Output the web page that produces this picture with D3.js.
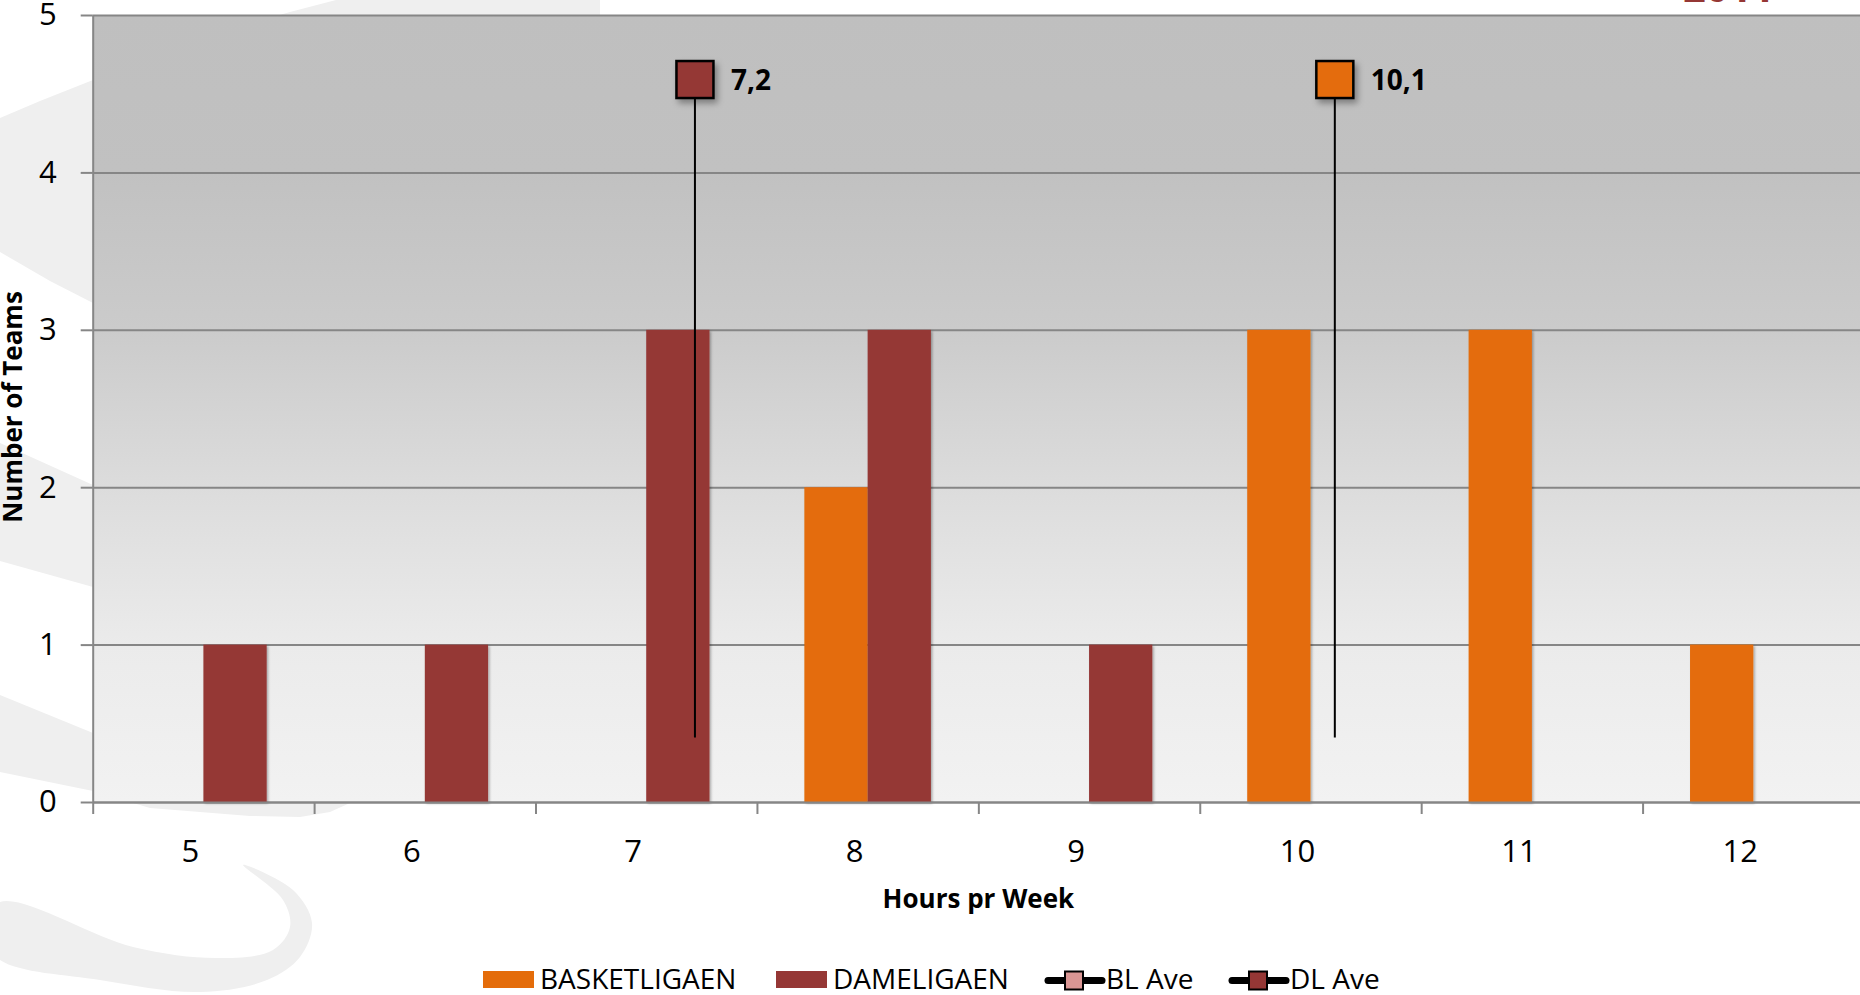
<!DOCTYPE html>
<html>
<head>
<meta charset="utf-8">
<title>Hours pr Week</title>
<script src="https://cdn.jsdelivr.net/npm/d3@7"></script>
<style>
  body { margin: 0; background: #fff; }
  svg { display: block; font-family: "Open Sans", sans-serif; }
</style>
</head>
<body>
<svg width="1860" height="995"></svg>
<script>
// data
var hours = [5, 6, 7, 8, 9, 10, 11, 12];
var series = ["BASKETLIGAEN", "DAMELIGAEN"];
var basketligaen = [0, 0, 0, 2, 0, 3, 3, 1];
var dameligaen = [1, 1, 3, 3, 1, 0, 0, 0];
var aveNames = ["BL Ave", "DL Ave"];
var aveHours = [10.11, 7.22];
var aveLevel = [4.59, 4.59];
var aveLow = [0.41, 0.41];
var yTicks = [0, 1, 2, 3, 4, 5];

var barColours = ["#e46c0a", "#953735"];
var aveColours = ["#e46c0a", "#953735"];
var aveLegendColours = ["#d99694", "#953735"];

var svg = d3.select("svg");
var plotLeft = 92.7, plotRight = 1864, plotTop = 15, plotBottom = 802;

// background swooshes of the slide template
var swooshes = [
  { curve: d3.curveLinear, pts: [[0,118],[40,101],[93,80],[150,58],[220,32],[290,12],[336,0],[600,0],[600,200],[93,303],[50,281],[0,252]] },
  { curve: d3.curveLinear, pts: [[0,443],[93,485],[200,520],[200,600],[93,587],[0,561]] },
  { curve: d3.curveLinear, pts: [[0,695],[93,733],[200,770],[356,795],[350,803],[330,812],[300,817],[250,816],[150,808],[93,791],[0,772]] },
  { curve: d3.curveCatmullRomClosed.alpha(0.5), pts: [[0,902],[133,947],[217,958],[273,950],[290,927],[283,900],[243,865],[293,890],[312,923],[300,957],[267,980],[200,992],[100,980],[0,960],[-20,930]] }
];
svg.append("g").selectAll("path").data(swooshes).enter()
  .append("path")
  .attr("d", function (d) { return d3.line().curve(d.curve)(d.pts) + (d.curve === d3.curveLinear ? "Z" : ""); })
  .attr("fill", "#efefef");

// cut-off title piece at the top
svg.append("text").attr("x", 1683).attr("y", 2)
  .attr("font-size", 40).attr("font-weight", "bold").attr("fill", "#953735")
  .text("2011");

var defs = svg.append("defs");
var grad = defs.append("linearGradient").attr("id", "plotbg")
  .attr("x1", 0).attr("y1", 0).attr("x2", 0).attr("y2", 1);
[[0, "#bfbfbf"], [0.2, "#c1c1c1"], [0.4, "#cbcbcb"], [0.6, "#dcdcdc"], [0.8, "#ebebeb"], [1, "#f2f2f2"]]
  .forEach(function (s) { grad.append("stop").attr("offset", s[0]).attr("stop-color", s[1]); });

var shBar = defs.append("filter").attr("id", "shbar").attr("x", "-20%").attr("y", "-20%").attr("width", "140%").attr("height", "140%");
shBar.append("feDropShadow").attr("dx", 1.5).attr("dy", 1.5).attr("stdDeviation", 1.2)
  .attr("flood-color", "#000").attr("flood-opacity", 0.3);
var shMark = defs.append("filter").attr("id", "shmark").attr("x", "-30%").attr("y", "-30%").attr("width", "170%").attr("height", "170%");
shMark.append("feDropShadow").attr("dx", 3).attr("dy", 4).attr("stdDeviation", 3)
  .attr("flood-color", "#000").attr("flood-opacity", 0.35);

svg.append("rect").attr("x", plotLeft).attr("y", plotTop)
  .attr("width", plotRight - plotLeft).attr("height", plotBottom - plotTop)
  .attr("fill", "url(#plotbg)");

// scales
var x0 = d3.scaleBand().domain(hours).range([plotLeft, plotRight])
  .paddingInner(0.4286).paddingOuter(0.2143);
var x1 = d3.scaleBand().domain(series).range([0, x0.bandwidth()]);
var xv = d3.scaleLinear().domain([4.5, 12.5]).range([plotLeft, plotRight]);
var y = d3.scaleLinear().domain([0, 5]).range([plotBottom, plotTop]);

// gridlines
svg.append("g").attr("transform", "translate(" + plotLeft + ",0)")
  .call(d3.axisLeft(y).tickValues(yTicks).tickSize(-(plotRight - plotLeft)).tickFormat(""))
  .call(function (g) { g.select(".domain").remove(); })
  .selectAll("line").attr("stroke", "#868686").attr("stroke-width", 2);

// y axis
var yAxis = svg.append("g").attr("transform", "translate(" + plotLeft + ",0)")
  .call(d3.axisLeft(y).tickValues(yTicks).tickFormat(d3.format("d"))
    .tickSize(12).tickSizeOuter(0).tickPadding(24));
yAxis.select(".domain").attr("stroke", "#868686").attr("stroke-width", 2);
yAxis.selectAll("line").attr("stroke", "#868686").attr("stroke-width", 2);
yAxis.selectAll("text").attr("font-size", 31).attr("font-family", "Open Sans").attr("fill", "#000");

// bars
var rows = hours.map(function (h, i) {
  return { hour: h, values: [basketligaen[i], dameligaen[i]] };
});
svg.append("g").selectAll("g").data(rows).enter().append("g")
  .attr("transform", function (d) { return "translate(" + x0(d.hour) + ",0)"; })
  .selectAll("rect")
  .data(function (d) { return d.values.map(function (v, j) { return { s: series[j], v: v, c: barColours[j] }; }).filter(function (e) { return e.v > 0; }); })
  .enter().append("rect")
  .attr("x", function (d) { return x1(d.s); })
  .attr("y", function (d) { return y(d.v); })
  .attr("width", x1.bandwidth())
  .attr("height", function (d) { return y(0) - y(d.v); })
  .attr("fill", function (d) { return d.c; })
  .attr("filter", "url(#shbar)");

// x axis: ticks between categories, labels under categories
var xAxis = svg.append("g").attr("transform", "translate(0," + plotBottom + ")")
  .call(d3.axisBottom(xv).tickValues(hours.map(function (h) { return h - 0.5; }).concat([12.5]))
    .tickSize(12).tickSizeOuter(0).tickFormat(""));
xAxis.select(".domain").attr("stroke", "#868686").attr("stroke-width", 2);
xAxis.selectAll("line").attr("stroke", "#868686").attr("stroke-width", 2);

var xLab = svg.append("g").attr("transform", "translate(0," + plotBottom + ")")
  .call(d3.axisBottom(x0).tickSize(0).tickPadding(0));
xLab.select(".domain").remove();
xLab.selectAll("text").attr("font-size", 31).attr("font-family", "Open Sans").attr("fill", "#000")
  .attr("y", 60).attr("dy", 0).attr("dx", -13);

// axis titles
svg.append("text").attr("transform", "translate(22,407) rotate(-90)")
  .attr("text-anchor", "middle").attr("font-size", 26).attr("font-weight", "bold")
  .text("Number of Teams");
svg.append("text").attr("x", (plotLeft + plotRight) / 2).attr("y", 908)
  .attr("text-anchor", "middle").attr("font-size", 26).attr("font-weight", "bold")
  .text("Hours pr Week");

// averages with error bars
var fmt = d3.formatLocale({ decimal: ",", thousands: ".", grouping: [3], currency: ["", ""] }).format(".1f");
var aves = aveNames.map(function (n, i) {
  return { name: n, x: aveHours[i], y: aveLevel[i], low: aveLow[i], c: aveColours[i] };
});
var ag = svg.append("g").selectAll("g").data(aves).enter().append("g");
ag.append("line")
  .attr("x1", function (d) { return xv(d.x); }).attr("x2", function (d) { return xv(d.x); })
  .attr("y1", function (d) { return y(d.y); }).attr("y2", function (d) { return y(d.low); })
  .attr("stroke", "#000").attr("stroke-width", 2);
ag.append("rect")
  .attr("x", function (d) { return xv(d.x) - 18.5; })
  .attr("y", function (d) { return y(d.y) - 18.5; })
  .attr("width", 37).attr("height", 37)
  .attr("fill", function (d) { return d.c; })
  .attr("stroke", "#000").attr("stroke-width", 2.5)
  .attr("filter", "url(#shmark)");
ag.append("text")
  .attr("x", function (d) { return xv(d.x) + 36; })
  .attr("y", function (d) { return y(d.y) + 10; })
  .attr("font-size", 28).attr("font-weight", "bold")
  .text(function (d) { return fmt(d.x); });

// legend
var legendX = [483, 776, 1044, 1228];
var legendItems = [
  { type: "bar", label: series[0], c: barColours[0] },
  { type: "bar", label: series[1], c: barColours[1] },
  { type: "line", label: aveNames[0], c: aveLegendColours[0] },
  { type: "line", label: aveNames[1], c: aveLegendColours[1] }
];
var lg = svg.append("g").selectAll("g").data(legendItems).enter().append("g")
  .attr("transform", function (d, i) { return "translate(" + legendX[i] + ",971)"; });
lg.filter(function (d) { return d.type === "bar"; }).append("rect")
  .attr("width", 51).attr("height", 17).attr("fill", function (d) { return d.c; });
lg.filter(function (d) { return d.type === "line"; }).append("line")
  .attr("x1", 4).attr("x2", 58).attr("y1", 9.5).attr("y2", 9.5)
  .attr("stroke", "#000").attr("stroke-width", 7).attr("stroke-linecap", "round");
lg.filter(function (d) { return d.type === "line"; }).append("rect")
  .attr("x", 21).attr("y", 0.5).attr("width", 18).attr("height", 18)
  .attr("fill", function (d) { return d.c; }).attr("stroke", "#000").attr("stroke-width", 2);
lg.append("text")
  .attr("x", function (d) { return d.type === "bar" ? 57 : 62; })
  .attr("y", 18)
  .attr("font-size", 28).attr("fill", "#000")
  .text(function (d) { return d.label; });
</script>
</body>
</html>
